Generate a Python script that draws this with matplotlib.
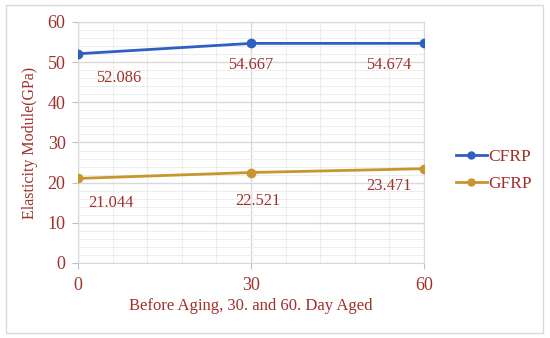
import numpy as np
import matplotlib.pyplot as plt
from matplotlib.patches import Rectangle
from matplotlib.lines import Line2D

# data
days = [0, 30, 60]
cfrp = [52.086, 54.667, 54.674]
gfrp = [21.044, 22.521, 23.471]
series_names = ['CFRP', 'GFRP']

text_color = '#A0302A'
blue = '#2F5FC0'
gold = '#C8962C'
plt.rcParams['font.family'] = ['Liberation Serif', 'DejaVu Serif']

fig = plt.figure(figsize=(5.5, 3.38), dpi=100)
ax = fig.add_axes([0.142, 0.222, 0.629, 0.713])

# outer border of the chart area
fig.patches.append(Rectangle((6 / 550, 5 / 338), 537 / 550, 328 / 338,
                             transform=fig.transFigure, fill=False,
                             edgecolor='#D9D9D9', linewidth=1.0))

ax.plot(days, cfrp, color=blue, marker='o', markersize=6, linewidth=2, zorder=3)
ax.plot(days, gfrp, color=gold, marker='o', markersize=6, linewidth=2, zorder=3)

ax.set_xlim(0, 60)
ax.set_ylim(0, 60)
ax.set_xticks([0, 30, 60])
ax.set_yticks(np.arange(0, 61, 10))
ax.set_xticks(np.arange(0, 61, 6), minor=True)
ax.set_yticks(np.arange(0, 61, 2), minor=True)
ax.grid(which='major', color='#D9D9D9', linewidth=1.0)
ax.grid(which='minor', color='#EDEDED', linewidth=0.8)
ax.set_axisbelow(True)
for s in ax.spines.values():
    s.set_color('#D9D9D9')
ax.tick_params(which='minor', length=0)
ax.tick_params(which='major', length=4, color='#BFBFBF', labelcolor=text_color, labelsize=13)
ax.tick_params(axis='x', pad=6)
ax.tick_params(axis='y', pad=5)

ax.set_xlabel('Before Aging, 30. and 60. Day Aged', color=text_color, fontsize=12, labelpad=3)
ax.set_ylabel('Elasticity Module(GPa)', color=text_color, fontsize=11.5, labelpad=7)

# data labels
offsets_c = [(13, -12, 'left'), (0, -10, 'center'), (-9, -10, 'right')]
offsets_g = [(7, -12, 'left'), (5, -14.5, 'center'), (-9, -7, 'right')]
for x, y, (dx, dy, ha) in zip(days, cfrp, offsets_c):
    ax.annotate(f'{y:.3f}', (x, y), xytext=(dx, dy), textcoords='offset points',
                ha=ha, va='top', color=text_color, fontsize=11.8, annotation_clip=False)
for x, y, (dx, dy, ha) in zip(days, gfrp, offsets_g):
    ax.annotate(f'{y:.3f}', (x, y), xytext=(dx, dy), textcoords='offset points',
                ha=ha, va='top', color=text_color, fontsize=11.8, annotation_clip=False)

handles = [Line2D([], [], color=blue, marker='o', markersize=5, linewidth=2),
           Line2D([], [], color=gold, marker='o', markersize=5, linewidth=2)]
leg = fig.legend(handles, series_names, loc='center left', bbox_to_anchor=(0.8, 0.495),
                 frameon=False, fontsize=12.5, handlelength=1.8, handletextpad=0.1,
                 labelspacing=0.62)
for t in leg.get_texts():
    t.set_color(text_color)

fig.savefig('out.png', dpi=100)
